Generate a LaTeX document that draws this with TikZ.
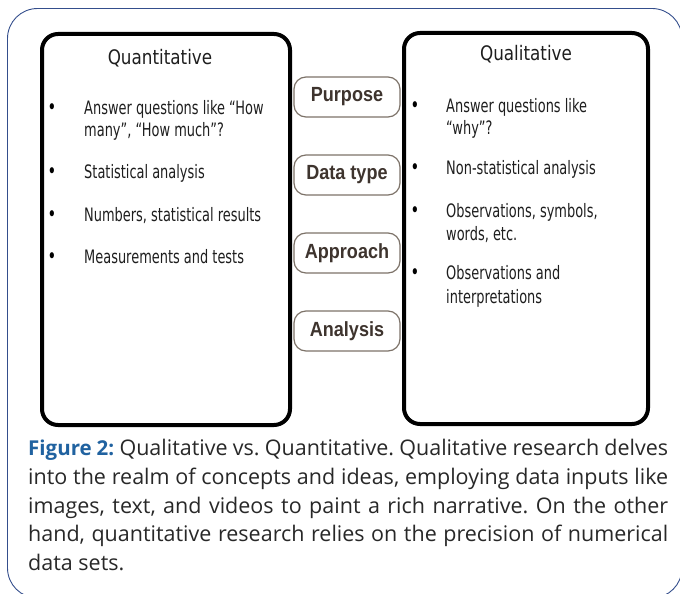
\documentclass[tikz,border=0pt]{standalone}
\usepackage{fontspec}
\setmainfont{Open Sans}
\newfontfamily\bodyfont[FakeStretch=0.70]{DejaVu Sans}
\newfontfamily\headfont[FakeStretch=0.84]{DejaVu Sans}
\newfontfamily\pillfont[FakeStretch=0.88]{Liberation Sans}
\definecolor{framecol}{RGB}{52,78,140}
\definecolor{figblue}{RGB}{32,98,160}
\definecolor{pillline}{RGB}{125,115,105}
\definecolor{pilltext}{RGB}{62,52,46}
\definecolor{itemtext}{RGB}{30,30,30}
\definecolor{captext}{RGB}{40,40,40}
\tikzset{
  frame/.style={draw=framecol, line width=0.9pt, rounded corners=30pt},
  colbox/.style={draw=black, line width=4pt, rounded corners=16pt},
  pill/.style={draw=pillline, line width=1.2pt, rounded corners=12pt, fill=white,
    minimum width=106pt, minimum height=40pt, inner sep=0pt,
    font=\pillfont\bfseries\fontsize{20.5}{24}\selectfont, text=pilltext},
  head/.style={anchor=base, inner sep=0pt, font=\headfont\fontsize{20}{24}\selectfont, text=itemtext},
  item/.style={anchor=base west, inner sep=0pt, font=\bodyfont\fontsize{18.5}{22}\selectfont, text=itemtext},
  dot/.style={anchor=base, inner sep=0pt, font=\bodyfont\fontsize{21}{24}\selectfont, text=black},
  capline/.style={anchor=base west, inner sep=0pt, font=\fontsize{21.5}{28}\selectfont, text=captext},
}
\begin{document}
\frenchspacing
\begin{tikzpicture}[x=1pt,y=-1pt]
\useasboundingbox (0,0) rectangle (680,594);
% outer figure frame, running off the right and bottom edges
\begin{scope}
  \clip (0,0) rectangle (680,594);
  \draw[frame] (7.5,8.5) rectangle (682,598);
\end{scope}

% the two columns
\draw[colbox] (42,34) rectangle (290,425);
\draw[colbox] (404,33) rectangle (648,424);

\node[head] (quanthead) at (160,64) {Quantitative};
\node[head] (qualhead) at (526,60) {Qualitative};

% quantitative items
\node[dot] (qb1) at (52,114) {•};
\node[item] (qt1a) at (84,114) {Answer questions like “How};
\node[item] (qt1b) at (84,136) {many”, “How much”?};
\node[dot] (qb2) at (52,178) {•};
\node[item] (qt2) at (84,178) {Statistical analysis};
\node[dot] (qb3) at (52,221) {•};
\node[item] (qt3) at (84,221) {Numbers, statistical results};
\node[dot] (qb4) at (52,263) {•};
\node[item] (qt4) at (84,263) {Measurements and tests};

% qualitative items
\node[dot] (lb1) at (415,112) {•};
\node[item] (lt1a) at (446,112) {Answer questions like};
\node[item] (lt1b) at (446,134) {“why”?};
\node[dot] (lb2) at (415,174) {•};
\node[item] (lt2) at (446,174) {Non-statistical analysis};
\node[dot] (lb3) at (415,217) {•};
\node[item] (lt3a) at (446,217) {Observations, symbols,};
\node[item] (lt3b) at (446,240) {words, etc.};
\node[dot] (lb4) at (415,279) {•};
\node[item] (lt4a) at (446,279) {Observations and};
\node[item] (lt4b) at (446,303) {interpretations};

% comparison criteria
\node[pill] (purpose) at (347,97) {Purpose};
\node[pill] (datatype) at (347,175) {Data type};
\node[pill] (approach) at (347,253) {Approach};
\node[pill] (analysis) at (347,331) {Analysis};

% caption
\node[capline] (cap1) at (28,455) {\makebox[640pt][s]{\textcolor{figblue}{\fontsize{20.5}{28}\selectfont\bfseries Figure 2:} Qualitative vs. Quantitative. Qualitative research delves}};
\node[capline] (cap2) at (28,484) {\makebox[640pt][s]{into the realm of concepts and ideas, employing data inputs like}};
\node[capline] (cap3) at (28,513) {\makebox[640pt][s]{images, text, and videos to paint a rich narrative. On the other}};
\node[capline] (cap4) at (28,541) {\makebox[640pt][s]{hand, quantitative research relies on the precision of numerical}};
\node[capline] (cap5) at (28,570) {data sets.};
\end{tikzpicture}
\end{document}
